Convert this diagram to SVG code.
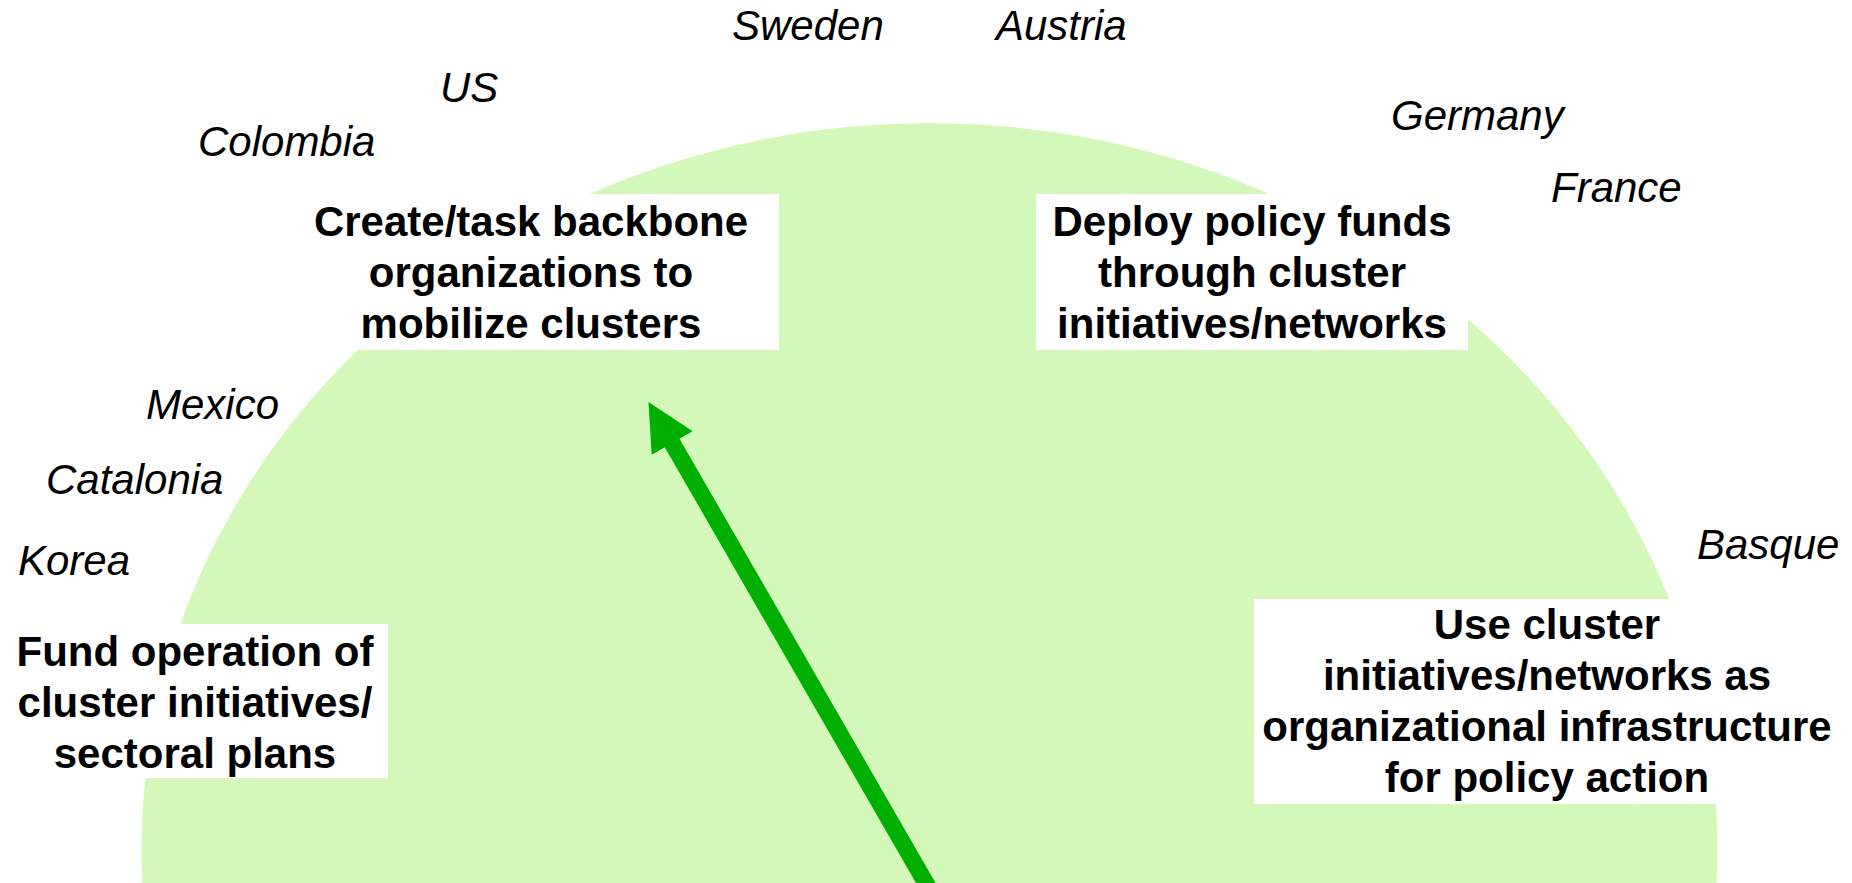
<svg xmlns="http://www.w3.org/2000/svg" width="1852" height="883" viewBox="0 0 1852 883">
<style>
.box{fill:#FFFFFF;stroke:none}
.lbl{font-family:"Liberation Sans",Arial,sans-serif;font-size:42px;font-weight:bold;fill:#000000;text-anchor:middle}
.cty{font-family:"Liberation Sans",Arial,sans-serif;font-size:42px;font-style:italic;fill:#000000}
.arr{stroke:#00B000;stroke-width:17;fill:none}
</style>
<defs>
<marker id="head" markerUnits="userSpaceOnUse" markerWidth="48" markerHeight="48" refX="2" refY="23.7" orient="auto" viewBox="0 0 48 48">
<path d="M0,0 L47.5,23.7 L0,47.4 Z" fill="#00B000"/>
</marker>
</defs>
<rect width="1852" height="883" fill="#FFFFFF"/>
<ellipse id="bg" cx="929.5" cy="850" rx="788" ry="727" fill="#D4F8BA"/>
<g id="connectors">
<line class="arr" x1="938.2" y1="904.5" x2="671.2" y2="441.4" marker-end="url(#head)"/>
</g>
<g id="node-backbone">
<rect class="box" x="307" y="194" width="472" height="156"/>
<text class="lbl" x="531" y="236">Create/task backbone</text>
<text class="lbl" x="531" y="287">organizations to</text>
<text class="lbl" x="531" y="338">mobilize clusters</text>
</g>
<g id="node-deploy">
<rect class="box" x="1036" y="194" width="432" height="156"/>
<text class="lbl" x="1252" y="236">Deploy policy funds</text>
<text class="lbl" x="1252" y="287">through cluster</text>
<text class="lbl" x="1252" y="338">initiatives/networks</text>
</g>
<g id="node-fund">
<rect class="box" x="0" y="624" width="388" height="154"/>
<text class="lbl" x="195" y="666">Fund operation of</text>
<text class="lbl" x="195" y="717">cluster initiatives/</text>
<text class="lbl" x="195" y="768">sectoral plans</text>
</g>
<g id="node-use">
<rect class="box" x="1254" y="599" width="598" height="205"/>
<text class="lbl" x="1547" y="639">Use cluster</text>
<text class="lbl" x="1547" y="690">initiatives/networks as</text>
<text class="lbl" x="1547" y="741">organizational infrastructure</text>
<text class="lbl" x="1547" y="792">for policy action</text>
</g>
<g id="countries">
<text class="cty" x="732" y="40">Sweden</text>
<text class="cty" x="996" y="40">Austria</text>
<text class="cty" x="440" y="102">US</text>
<text class="cty" x="198" y="156">Colombia</text>
<text class="cty" x="1391" y="130">Germany</text>
<text class="cty" x="1551" y="202">France</text>
<text class="cty" x="146" y="419">Mexico</text>
<text class="cty" x="46" y="494">Catalonia</text>
<text class="cty" x="18" y="575">Korea</text>
<text class="cty" x="1697" y="559">Basque</text>
</g>
</svg>
